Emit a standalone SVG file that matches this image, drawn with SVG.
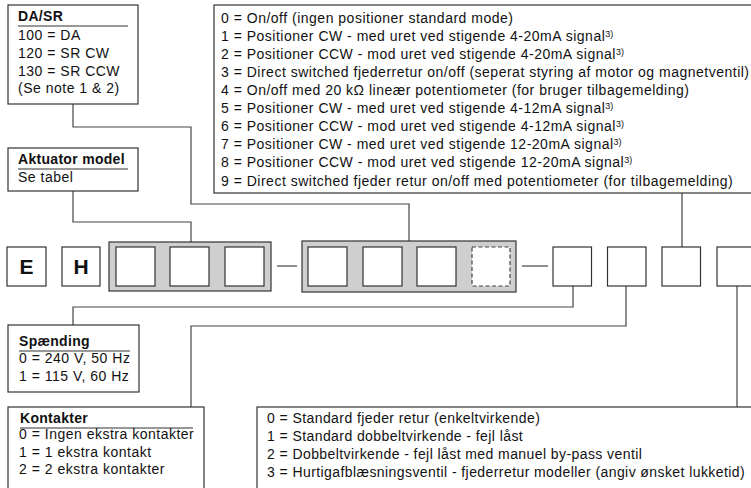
<svg xmlns="http://www.w3.org/2000/svg" width="751" height="488" viewBox="0 0 751 488">
<style>
text{font-family:"Liberation Sans",Arial,sans-serif;font-size:14px;letter-spacing:0.5px;fill:#111}
.b{font-weight:bold;letter-spacing:0.3px}
.big{font-weight:bold;font-size:21px;letter-spacing:0}
.box{fill:#fff;stroke:#333;stroke-width:1.2}
.grp{fill:#cfcfcf;stroke:#333;stroke-width:1.2}
.dash{fill:#fff;stroke:#444;stroke-width:1.2;stroke-dasharray:4 2.5}
.ul{stroke:#333;stroke-width:1.2}
.c{fill:none;stroke:#444;stroke-width:1.2}
.sup{font-size:9px;letter-spacing:0}
.tight{letter-spacing:0.42px}
</style>
<rect width="751" height="488" fill="#fff"/>
<g id="connectors">
<polyline class="c" points="73,104 73,127 191,127 191,204 409,204 409,242"/>
<polyline class="c" points="73,191 73,222 191,222 191,242"/>
<polyline class="c" points="682,193 682,247"/>
<polyline class="c" points="573,286 573,307 73,307 73,325"/>
<polyline class="c" points="626,286 626,326 191,326 191,407"/>
<polyline class="c" points="737,286 737,407"/>
<line class="c" x1="277" y1="266" x2="297" y2="266"/>
<line class="c" x1="522" y1="266" x2="548" y2="266"/>
</g>
<g id="dasr">
<rect class="box" x="8" y="5" width="130" height="99"/>
<text class="b" x="18" y="21">DA/SR</text>
<line class="ul" x1="18" y1="26" x2="128" y2="26"/>
<text x="18" y="39.5">100 = DA</text>
<text x="18" y="57.5">120 = SR CW</text>
<text x="18" y="75.5">130 = SR CCW</text>
<text x="18" y="93">(Se note 1 &amp; 2)</text>
</g>
<g id="aktuator">
<rect class="box" x="8" y="148" width="130" height="43"/>
<text class="b" x="18" y="164">Aktuator model</text>
<line class="ul" x1="18" y1="169" x2="128" y2="169"/>
<text x="18" y="182">Se tabel</text>
</g>
<g id="signal">
<rect class="box" x="214" y="5" width="545" height="188"/>
<text x="221" y="23">0 = On/off (ingen positioner standard mode)</text>
<text x="221" y="41">1 = Positioner CW - med uret ved stigende 4-20mA signal<tspan class="sup" dy="-4">3)</tspan></text>
<text x="221" y="59">2 = Positioner CCW - mod uret ved stigende 4-20mA signal<tspan class="sup" dy="-4">3)</tspan></text>
<text x="221" y="77">3 = Direct switched fjederretur on/off (seperat styring af motor og magnetventil)</text>
<text x="221" y="95">4 = On/off med 20 kΩ lineær potentiometer (for bruger tilbagemelding)</text>
<text x="221" y="113">5 = Positioner CW - med uret ved stigende 4-12mA signal<tspan class="sup" dy="-4">3)</tspan></text>
<text x="221" y="131">6 = Positioner CCW - mod uret ved stigende 4-12mA signal<tspan class="sup" dy="-4">3)</tspan></text>
<text x="221" y="149">7 = Positioner CW - med uret ved stigende 12-20mA signal<tspan class="sup" dy="-4">3)</tspan></text>
<text x="221" y="167">8 = Positioner CCW - mod uret ved stigende 12-20mA signal<tspan class="sup" dy="-4">3)</tspan></text>
<text x="221" y="185.5">9 = Direct switched fjeder retur on/off med potentiometer (for tilbagemelding)</text>
</g>
<g id="code">
<rect class="box" x="7" y="247" width="39" height="39"/>
<text class="big" x="26.5" y="273.5" text-anchor="middle">E</text>
<rect class="box" x="62" y="247" width="38" height="39"/>
<text class="big" x="81" y="273.5" text-anchor="middle">H</text>
<rect class="grp" x="109" y="242" width="162" height="49"/>
<rect class="box" x="116" y="247" width="39" height="39"/>
<rect class="box" x="170" y="247" width="39" height="39"/>
<rect class="box" x="225" y="247" width="39" height="39"/>
<rect class="grp" x="302" y="241" width="214" height="51"/>
<rect class="box" x="308" y="247" width="39" height="39"/>
<rect class="box" x="363" y="247" width="39" height="39"/>
<rect class="box" x="417" y="247" width="39" height="39"/>
<rect class="dash" x="472" y="247" width="38" height="39"/>
<rect class="box" x="553" y="247" width="38.5" height="39"/>
<rect class="box" x="607.5" y="247" width="38.5" height="39"/>
<rect class="box" x="662" y="247" width="38.5" height="39"/>
<rect class="box" x="717" y="247" width="39" height="39"/>
</g>
<g id="spaending">
<rect class="box" x="8" y="325" width="131" height="67"/>
<text class="b" x="19" y="346">Spænding</text>
<line class="ul" x1="19" y1="351" x2="130" y2="351"/>
<text x="19" y="363">0 = 240 V, 50 Hz</text>
<text x="19" y="381">1 = 115 V, 60 Hz</text>
</g>
<g id="kontakter">
<rect class="box" x="8" y="407" width="196" height="90"/>
<text class="b" x="20" y="423">Kontakter</text>
<line class="ul" x1="20" y1="428" x2="193" y2="428"/>
<text x="19" y="439">0 = Ingen ekstra kontakter</text>
<text x="19" y="456.5">1 = 1 ekstra kontakt</text>
<text x="19" y="474">2 = 2 ekstra kontakter</text>
</g>
<g id="fjeder">
<rect class="box" x="257" y="407" width="510" height="90"/>
<text class="tight" x="267" y="423">0 = Standard fjeder retur (enkeltvirkende)</text>
<text class="tight" x="267" y="441">1 = Standard dobbeltvirkende - fejl låst</text>
<text class="tight" x="267" y="459">2 = Dobbeltvirkende - fejl låst med manuel by-pass ventil</text>
<text class="tight" x="267" y="477">3 = Hurtigafblæsningsventil - fjederretur modeller (angiv ønsket lukketid)</text>
</g>
</svg>
